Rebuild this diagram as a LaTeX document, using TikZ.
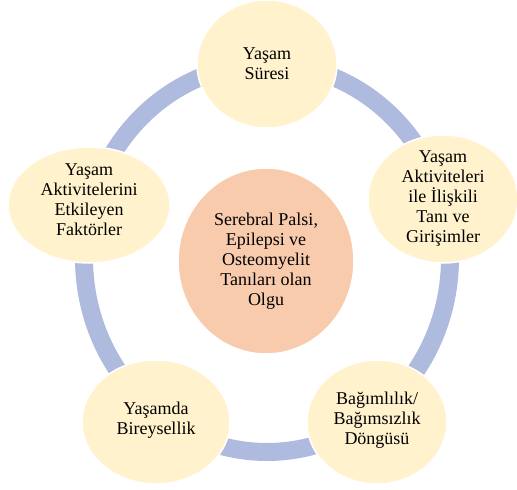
\documentclass[tikz,border=0pt]{standalone}
\usepackage{fontspec}
\setmainfont{Liberation Serif}
\usetikzlibrary{positioning}
\definecolor{ringBlue}{RGB}{174,186,222}
\definecolor{lifeYellow}{RGB}{255,242,204}
\definecolor{casePeach}{RGB}{248,203,173}
\tikzstyle{bubble} = [fill=lifeYellow, draw=white, line width=1.5pt]
\tikzstyle{caseBubble} = [fill=casePeach, draw=white, line width=1.5pt]
\tikzstyle{bubbleText} = [align=center, inner sep=0pt,
   font=\fontsize{18}{20}\selectfont]

\begin{document}
\begin{tikzpicture}[x=1pt, y=-1pt]
  \useasboundingbox (0,0) rectangle (517,490);
  % the ring behind everything
  \draw[ringBlue, line width=18pt] (267,258) ellipse [x radius=183, y radius=194];
  % bubbles
  \path[caseBubble] (266,261) ellipse [x radius=88, y radius=93];
  \path[bubble] (267,64) ellipse [x radius=70, y radius=64];
  \path[bubble] (443,199) ellipse [x radius=75, y radius=64];
  \path[bubble] (377,422) ellipse [x radius=70, y radius=62];
  \path[bubble] (156,422) ellipse [x radius=74, y radius=62];
  \path[bubble] (89,205) ellipse [x radius=81, y radius=58];
  % texts
  \node[bubbleText] (olgu) at (266,261) {Serebral Palsi,\\Epilepsi ve\\Osteomyelit\\Tanıları olan\\Olgu};
  \node[bubbleText] (sure) at (267,64) {Yaşam\\Süresi};
  \node[bubbleText] (tani) at (443,199) {Yaşam\\Aktiviteleri\\ile İlişkili\\Tanı ve\\Girişimler};
  \node[bubbleText] (dongu) at (377,420) {Bağımlılık/\\Bağımsızlık\\Döngüsü};
  \node[bubbleText] (birey) at (156,420) {Yaşamda\\Bireysellik};
  \node[bubbleText] (faktor) at (89,200) {Yaşam\\Aktivitelerini\\Etkileyen\\Faktörler};
\end{tikzpicture}
\end{document}
